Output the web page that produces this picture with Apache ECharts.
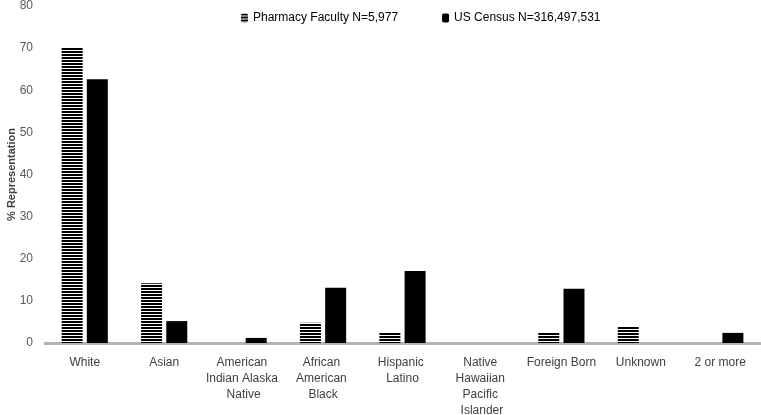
<!DOCTYPE html>
<html><head><meta charset="utf-8">
<script src="https://cdn.jsdelivr.net/npm/echarts@6/dist/echarts.min.js"></script>
<style>html,body{margin:0;padding:0;background:#fff}#c{width:761px;height:415px}</style>
</head><body><div id="c"></div>
<script>
const categories = ["White","Asian","American Indian Alaska Native","African American Black","Hispanic Latino","Native Hawaiian Pacific Islander","Foreign Born","Unknown","2 or more"];
const pharmacyFaculty = [70.2, 14.2, 0, 4.8, 2.6, 0, 2.6, 3.8, 0];
const usCensus = [62.6, 5.2, 1.2, 13.1, 17.1, 0, 12.9, 0, 2.4];
const yTicks = {min: 0, max: 80, interval: 10};

function stripe(){
  const c = document.createElement('canvas');
  c.width = 4; c.height = 3;
  const g = c.getContext('2d');
  g.fillStyle = '#fff'; g.fillRect(0,0,4,3);
  g.fillStyle = '#000'; g.fillRect(0,0,4,2);
  return {image: c, repeat: 'repeat'};
}
const pat = stripe();
const chart = echarts.init(document.getElementById('c'));
const font = 'Liberation Sans';
chart.setOption({
  animation: false,
  textStyle: {fontFamily: font},
  legend: {
    top: 7, left: 236, itemWidth: 7, itemHeight: 9, itemGap: 44,
    textStyle: {fontSize: 12, color: '#000', fontFamily: font},
    data: ['Pharmacy Faculty N=5,977', 'US Census N=316,497,531']
  },
  grid: {left: 45, right: 1, top: 6, bottom: 72, outerBoundsMode: 'none', containLabel: false},
  xAxis: {
    type: 'category', data: categories,
    axisLine: {lineStyle: {color: '#b3b3b3', width: 3}},
    axisTick: {show: false},
    axisLabel: {interval: 0, width: 80, overflow: 'break', fontSize: 12, lineHeight: 16, color: '#404040', margin: 12, fontFamily: font}
  },
  yAxis: {
    type: 'value', min: yTicks.min, max: yTicks.max, interval: yTicks.interval,
    name: '% Representation', nameLocation: 'middle', nameGap: 28, nameMoveOverlap: false,
    nameTextStyle: {fontWeight: 'bold', fontSize: 11, color: '#404040', fontFamily: font},
    splitLine: {show: false}, axisLine: {show: false}, axisTick: {show: false},
    axisLabel: {fontSize: 12, color: '#595959', margin: 12, fontFamily: font}
  },
  series: [
    {name: 'Pharmacy Faculty N=5,977', type: 'bar', data: pharmacyFaculty, barWidth: 21, barGap: '20%',
     itemStyle: {color: pat}},
    {name: 'US Census N=316,497,531', type: 'bar', data: usCensus, barWidth: 21,
     itemStyle: {color: '#000'}}
  ]
});
</script></body></html>
